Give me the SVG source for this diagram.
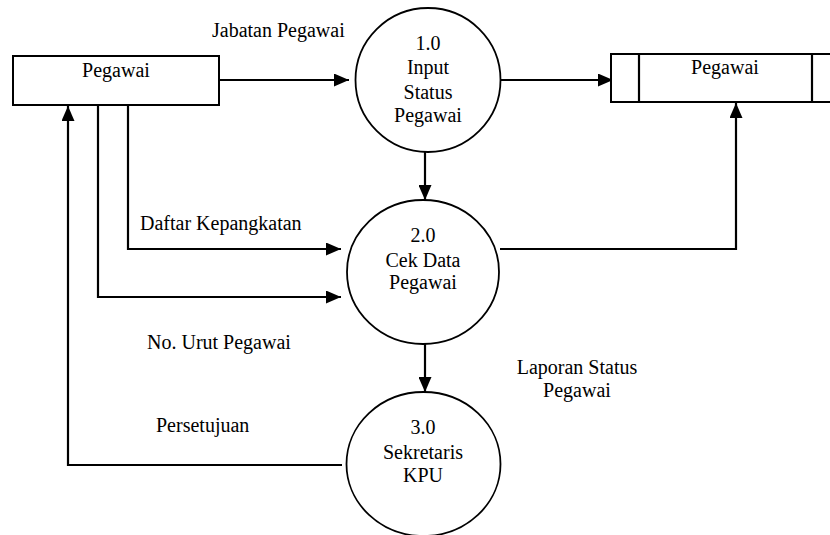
<svg xmlns="http://www.w3.org/2000/svg" width="830" height="535" viewBox="0 0 830 535">
<style>
text{font-size:20px;fill:#000;}
.c{text-anchor:middle;}
.shape{fill:#fff;stroke:#000;stroke-width:2;}
.proc{fill:#fff;stroke:#000;stroke-width:1.8;}
.flow{fill:none;stroke:#000;stroke-width:2.2;marker-end:url(#ah);}
.line{fill:none;stroke:#000;stroke-width:2.2;}
</style>
<defs>
<marker id="ah" markerUnits="userSpaceOnUse" markerWidth="16" markerHeight="13" refX="15" refY="6.5" orient="auto">
<path d="M0,0 L15,6.5 L0,13 z" fill="#000"/>
</marker>
</defs>
<rect width="830" height="535" fill="#fff"/>
<g id="connectors">
<path class="flow" d="M219,80 L349,80"/>
<path class="flow" d="M500,80 L613,80"/>
<path class="flow" d="M425,152 L425,200"/>
<path class="flow" d="M500,249 L736,249 L736,103"/>
<path class="flow" d="M425,344 L425,392"/>
<path class="flow" d="M342,465 L68,465 L68,106"/>
<path class="flow" d="M128,105 L128,249 L341,249"/>
<path class="flow" d="M98,105 L98,297 L341,297"/>
</g>
<g font-family="Liberation Serif, Tinos, Times New Roman, DejaVu Serif, serif">
<g id="entity-pegawai">
<rect class="shape" x="13" y="56" width="206" height="49"/>
<text class="c" x="116" y="77">Pegawai</text>
</g>
<g id="store-pegawai">
<rect class="shape" x="611" y="54" width="235" height="48"/>
<line class="line" x1="639" y1="54" x2="639" y2="102"/>
<line class="line" x1="812" y1="54" x2="812" y2="102"/>
<text class="c" x="725" y="74">Pegawai</text>
</g>
<g id="proc-1">
<ellipse class="proc" cx="428" cy="80" rx="72.5" ry="72"/>
<text class="c" x="428" y="50">1.0</text>
<text class="c" x="428" y="74">Input</text>
<text class="c" x="428" y="99">Status</text>
<text class="c" x="428" y="122">Pegawai</text>
</g>
<g id="proc-2">
<ellipse class="proc" cx="423" cy="272" rx="76" ry="72"/>
<text class="c" x="423" y="242">2.0</text>
<text class="c" x="423" y="267">Cek Data</text>
<text class="c" x="423" y="289">Pegawai</text>
</g>
<g id="proc-3">
<ellipse class="proc" cx="423.5" cy="464" rx="77" ry="72"/>
<text class="c" x="423" y="434">3.0</text>
<text class="c" x="423" y="459">Sekretaris</text>
<text class="c" x="423" y="482">KPU</text>
</g>
<g id="labels">
<text x="212" y="37">Jabatan Pegawai</text>
<text x="140" y="230">Daftar Kepangkatan</text>
<text x="147" y="349">No. Urut Pegawai</text>
<text x="156" y="432">Persetujuan</text>
<text class="c" x="577" y="374">Laporan Status</text>
<text class="c" x="577" y="397">Pegawai</text>
</g>
</g>
</svg>
